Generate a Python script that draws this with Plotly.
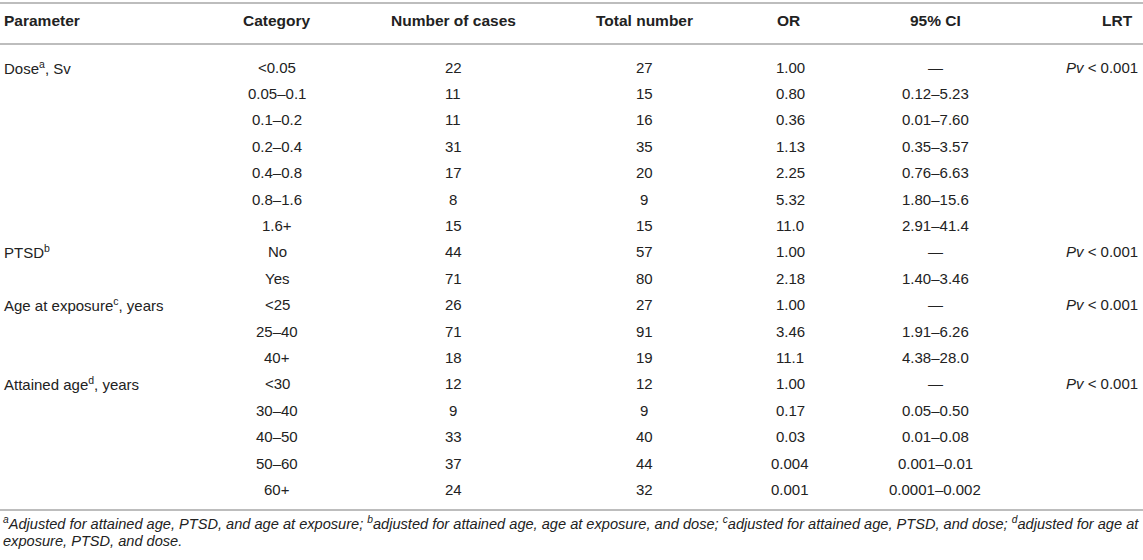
"""
Odds ratios table rebuilt with plotly annotations
"""

import plotly.graph_objects as go

# table contents, one entry per body row
parameters = ["Dose<sup>a</sup>, Sv", "", "", "", "", "", "",
              "PTSD<sup>b</sup>", "",
              "Age at exposure<sup>c</sup>, years", "", "",
              "Attained age<sup>d</sup>, years", "", "", "", ""]
categories = ["<0.05", "0.05–0.1", "0.1–0.2", "0.2–0.4", "0.4–0.8", "0.8–1.6", "1.6+",
              "No", "Yes",
              "<25", "25–40", "40+",
              "<30", "30–40", "40–50", "50–60", "60+"]
cases = [22, 11, 11, 31, 17, 8, 15, 44, 71, 26, 71, 18, 12, 9, 33, 37, 24]
totals = [27, 15, 16, 35, 20, 9, 15, 57, 80, 27, 91, 19, 12, 9, 40, 44, 32]
odds_ratios = ["1.00", "0.80", "0.36", "1.13", "2.25", "5.32", "11.0",
               "1.00", "2.18",
               "1.00", "3.46", "11.1",
               "1.00", "0.17", "0.03", "0.004", "0.001"]
conf_int = ["—", "0.12–5.23", "0.01–7.60", "0.35–3.57", "0.76–6.63", "1.80–15.6", "2.91–41.4",
            "—", "1.40–3.46",
            "—", "1.91–6.26", "4.38–28.0",
            "—", "0.05–0.50", "0.01–0.08", "0.001–0.01", "0.0001–0.002"]
lrt = ["<i>Pv</i> &lt; 0.001", "", "", "", "", "", "",
       "<i>Pv</i> &lt; 0.001", "",
       "<i>Pv</i> &lt; 0.001", "", "",
       "<i>Pv</i> &lt; 0.001", "", "", "", ""]
headers = ["Parameter", "Category", "Number of cases", "Total number", "OR", "95% CI", "LRT"]
footnotes = [
    "<sup>a</sup>Adjusted for attained age, PTSD, and age at exposure; "
    "<sup>b</sup>adjusted for attained age, age at exposure, and dose; "
    "<sup>c</sup>adjusted for attained age, PTSD, and dose; "
    "<sup>d</sup>adjusted for age at",
    "exposure, PTSD, and dose.",
]

W, H = 1143, 560
FONT = "Liberation Sans, Arial, Helvetica, sans-serif"
TXT = "#222222"
RULE = "#bdbdbd"

# column positions (x, anchor)
col_x = [2, 277, 453, 644, 790, 935, 1140]
col_anchor = ["left", "center", "center", "center", "center", "center", "right"]

header_y = 20
row_y0 = 67
row_step = 26.4

fig = go.Figure()
fig.add_trace(go.Scatter(x=[0, W], y=[0, H], mode="markers",
                         marker=dict(opacity=0), hoverinfo="skip", showlegend=False))

annotations = []


def cell(x, y, text, anchor, size=15, bold=False):
    if bold:
        text = f"<b>{text}</b>"
    annotations.append(dict(x=x, y=y, xref="x", yref="y", text=text, showarrow=False,
                            xanchor=anchor, yanchor="middle",
                            font=dict(family=FONT, size=size, color=TXT)))


# header
header_anchor = ["left", "center", "center", "center", "center", "center", "center"]
header_x = [2, 277, 453, 644, 788, 935, 1117]
for x, h, a in zip(header_x, headers, header_anchor):
    cell(x, header_y, h, a, size=15.5, bold=True)

# body
columns = [
    parameters,
    [c.replace("<", "&lt;") for c in categories],
    [str(v) for v in cases],
    [str(v) for v in totals],
    odds_ratios,
    conf_int,
    lrt,
]
for ci, (x, a, vals) in enumerate(zip(col_x, col_anchor, columns)):
    for ri, v in enumerate(vals):
        if v:
            cell(x, row_y0 + ri * row_step, v, a)

# footnotes
for i, f in enumerate(footnotes):
    annotations.append(dict(x=1, y=523 + i * 18, xref="x", yref="y", text=f"<i>{f}</i>",
                            showarrow=False, xanchor="left", yanchor="middle",
                            font=dict(family=FONT, size=14.6, color=TXT)))

# horizontal rules
rule_y = [3, 44, 510]
shapes = [dict(type="line", xref="x", yref="y", x0=0, x1=W, y0=y, y1=y,
               line=dict(color=RULE, width=2)) for y in rule_y]

fig.update_layout(
    width=W, height=H,
    margin=dict(l=0, r=0, t=0, b=0),
    paper_bgcolor="white", plot_bgcolor="white",
    xaxis=dict(range=[0, W], visible=False, fixedrange=True),
    yaxis=dict(range=[H, 0], visible=False, fixedrange=True),
    annotations=annotations,
    shapes=shapes,
)

# drop the default page margin so the figure sits at the window's corner
fig.write_html("out.html", config={"displayModeBar": False},
               post_script="document.body.style.margin='0';")
